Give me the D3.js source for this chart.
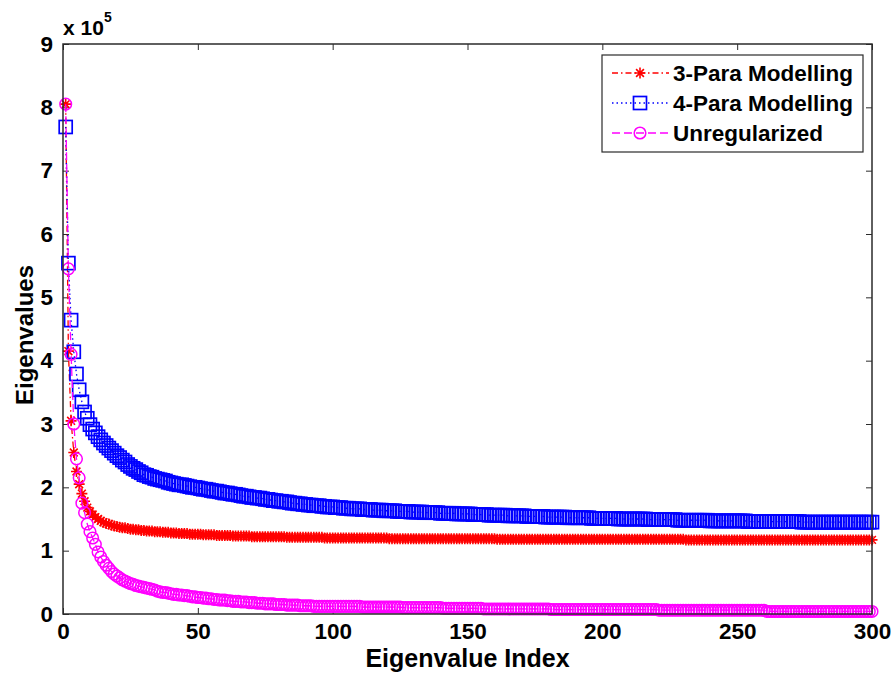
<!DOCTYPE html>
<html><head><meta charset="utf-8">
<script src="https://cdn.jsdelivr.net/npm/d3@7"></script>
<style>
body{margin:0;background:#fff;}
text{font-family:"Liberation Sans",Arial,sans-serif;font-weight:bold;fill:#000;}
</style></head>
<body><svg id="c" width="894" height="678"></svg>
<script>
// values in units of 1e5
const xTicks = [0,50,100,150,200,250,300];
const yTicks = [0,1,2,3,4,5,6,7,8,9];
const seriesNames = ["3-Para Modelling","4-Para Modelling","Unregularized"];
const threePara = [
8.05,4.15,3.05,2.55,2.25,2.05,1.90,1.78,1.68,1.62,
1.57,1.53,1.50,1.47,1.45,1.43,1.42,1.40,1.39,1.38,
1.37,1.36,1.36,1.35,1.34,1.34,1.33,1.33,1.32,1.32,
1.31,1.31,1.31,1.30,1.30,1.30,1.29,1.29,1.29,1.28,
1.28,1.28,1.27,1.27,1.27,1.27,1.26,1.26,1.26,1.26,
1.26,1.25,1.25,1.25,1.25,1.25,1.24,1.24,1.24,1.24,
1.24,1.24,1.23,1.23,1.23,1.23,1.23,1.23,1.23,1.22,
1.22,1.22,1.22,1.22,1.22,1.22,1.22,1.22,1.22,1.22,
1.22,1.22,1.21,1.21,1.21,1.21,1.21,1.21,1.21,1.21,
1.21,1.21,1.21,1.21,1.21,1.21,1.20,1.20,1.20,1.20,
1.20,1.20,1.20,1.20,1.20,1.20,1.20,1.20,1.20,1.20,
1.20,1.20,1.20,1.20,1.20,1.20,1.20,1.20,1.20,1.20,
1.19,1.19,1.19,1.19,1.19,1.19,1.19,1.19,1.19,1.19,
1.19,1.19,1.19,1.19,1.19,1.19,1.19,1.19,1.19,1.19,
1.19,1.19,1.19,1.19,1.19,1.19,1.19,1.19,1.19,1.19,
1.19,1.19,1.19,1.19,1.19,1.19,1.19,1.19,1.19,1.19,
1.18,1.18,1.18,1.18,1.18,1.18,1.18,1.18,1.18,1.18,
1.18,1.18,1.18,1.18,1.18,1.18,1.18,1.18,1.18,1.18,
1.18,1.18,1.18,1.18,1.18,1.18,1.18,1.18,1.18,1.18,
1.18,1.18,1.18,1.18,1.18,1.18,1.18,1.18,1.18,1.18,
1.18,1.18,1.18,1.18,1.18,1.18,1.18,1.18,1.18,1.18,
1.18,1.18,1.18,1.18,1.18,1.18,1.18,1.18,1.18,1.18,
1.18,1.18,1.18,1.18,1.18,1.18,1.18,1.18,1.18,1.18,
1.17,1.17,1.17,1.17,1.17,1.17,1.17,1.17,1.17,1.17,
1.17,1.17,1.17,1.17,1.17,1.17,1.17,1.17,1.17,1.17,
1.17,1.17,1.17,1.17,1.17,1.17,1.17,1.17,1.17,1.17,
1.17,1.17,1.17,1.17,1.17,1.17,1.17,1.17,1.17,1.17,
1.17,1.17,1.17,1.17,1.17,1.17,1.17,1.17,1.17,1.17,
1.17,1.17,1.17,1.17,1.17,1.17,1.17,1.17,1.17,1.17,
1.17,1.17,1.17,1.17,1.17,1.17,1.17,1.17,1.17,1.17];
const fourPara = [
7.69,5.54,4.64,4.14,3.79,3.54,3.35,3.19,3.09,2.99,
2.92,2.86,2.80,2.75,2.70,2.66,2.62,2.58,2.54,2.50,
2.47,2.43,2.40,2.36,2.33,2.30,2.28,2.25,2.23,2.20,
2.19,2.17,2.16,2.14,2.13,2.12,2.11,2.10,2.08,2.07,
2.06,2.05,2.04,2.04,2.03,2.02,2.01,2.00,2.00,1.99,
1.98,1.97,1.97,1.96,1.95,1.94,1.94,1.93,1.92,1.91,
1.91,1.90,1.89,1.89,1.88,1.87,1.86,1.86,1.85,1.84,
1.84,1.83,1.83,1.82,1.81,1.81,1.80,1.79,1.79,1.78,
1.78,1.77,1.77,1.76,1.75,1.75,1.74,1.74,1.73,1.73,
1.72,1.72,1.71,1.71,1.71,1.70,1.70,1.69,1.69,1.69,
1.68,1.68,1.68,1.67,1.67,1.67,1.66,1.66,1.66,1.66,
1.65,1.65,1.65,1.65,1.64,1.64,1.64,1.64,1.63,1.63,
1.63,1.63,1.63,1.62,1.62,1.62,1.62,1.62,1.61,1.61,
1.61,1.61,1.61,1.60,1.60,1.60,1.60,1.60,1.60,1.59,
1.59,1.59,1.59,1.59,1.59,1.58,1.58,1.58,1.58,1.58,
1.58,1.57,1.57,1.57,1.57,1.57,1.57,1.56,1.56,1.56,
1.56,1.56,1.56,1.56,1.55,1.55,1.55,1.55,1.55,1.55,
1.55,1.54,1.54,1.54,1.54,1.54,1.54,1.54,1.53,1.53,
1.53,1.53,1.53,1.53,1.53,1.53,1.52,1.52,1.52,1.52,
1.52,1.52,1.52,1.52,1.52,1.51,1.51,1.51,1.51,1.51,
1.51,1.51,1.51,1.51,1.51,1.50,1.50,1.50,1.50,1.50,
1.50,1.50,1.50,1.50,1.50,1.50,1.49,1.49,1.49,1.49,
1.49,1.49,1.49,1.49,1.49,1.49,1.49,1.48,1.48,1.48,
1.48,1.48,1.48,1.48,1.48,1.48,1.48,1.48,1.48,1.47,
1.47,1.47,1.47,1.47,1.47,1.47,1.47,1.47,1.47,1.47,
1.47,1.47,1.47,1.46,1.46,1.46,1.46,1.46,1.46,1.46,
1.46,1.46,1.46,1.46,1.46,1.46,1.46,1.46,1.46,1.46,
1.46,1.46,1.46,1.45,1.45,1.45,1.45,1.45,1.45,1.45,
1.45,1.45,1.45,1.45,1.45,1.45,1.45,1.45,1.45,1.45,
1.45,1.45,1.45,1.45,1.45,1.45,1.45,1.45,1.45,1.45];
const unregularized = [
8.05,5.45,4.10,3.00,2.45,2.15,1.75,1.60,1.42,1.30,
1.20,1.10,0.98,0.90,0.83,0.77,0.72,0.67,0.63,0.60,
0.57,0.54,0.52,0.50,0.48,0.47,0.45,0.44,0.43,0.42,
0.41,0.40,0.39,0.38,0.36,0.35,0.34,0.34,0.33,0.32,
0.31,0.31,0.30,0.30,0.29,0.29,0.28,0.27,0.27,0.26,
0.26,0.25,0.25,0.24,0.24,0.23,0.23,0.22,0.22,0.22,
0.21,0.21,0.20,0.20,0.20,0.19,0.19,0.19,0.18,0.18,
0.18,0.17,0.17,0.17,0.16,0.16,0.16,0.16,0.15,0.15,
0.15,0.15,0.14,0.14,0.14,0.14,0.14,0.13,0.13,0.13,
0.13,0.13,0.12,0.12,0.12,0.12,0.12,0.12,0.12,0.12,
0.12,0.12,0.12,0.12,0.12,0.12,0.12,0.12,0.12,0.12,
0.11,0.11,0.11,0.11,0.11,0.11,0.11,0.11,0.11,0.11,
0.11,0.11,0.11,0.11,0.11,0.10,0.10,0.10,0.10,0.10,
0.10,0.10,0.10,0.10,0.10,0.10,0.10,0.10,0.10,0.10,
0.09,0.09,0.09,0.09,0.09,0.09,0.09,0.09,0.09,0.09,
0.09,0.09,0.09,0.09,0.09,0.08,0.08,0.08,0.08,0.08,
0.08,0.08,0.08,0.08,0.08,0.08,0.08,0.08,0.08,0.08,
0.08,0.08,0.08,0.08,0.08,0.08,0.08,0.08,0.08,0.08,
0.07,0.07,0.07,0.07,0.07,0.07,0.07,0.07,0.07,0.07,
0.07,0.07,0.07,0.07,0.07,0.07,0.07,0.07,0.07,0.07,
0.07,0.07,0.07,0.07,0.07,0.07,0.07,0.07,0.07,0.07,
0.07,0.07,0.07,0.07,0.07,0.07,0.07,0.07,0.07,0.07,
0.06,0.06,0.06,0.06,0.06,0.06,0.06,0.06,0.06,0.06,
0.06,0.06,0.06,0.06,0.06,0.06,0.06,0.06,0.06,0.06,
0.06,0.06,0.06,0.06,0.06,0.06,0.06,0.06,0.06,0.06,
0.06,0.06,0.06,0.06,0.06,0.06,0.06,0.06,0.06,0.06,
0.04,0.04,0.04,0.04,0.04,0.04,0.04,0.04,0.04,0.04,
0.04,0.04,0.04,0.04,0.04,0.04,0.04,0.04,0.04,0.04,
0.04,0.04,0.04,0.04,0.04,0.04,0.04,0.04,0.04,0.04,
0.04,0.04,0.04,0.04,0.04,0.04,0.04,0.04,0.04,0.04];

const svg = d3.select("#c");
const L=63, R=872, T=44, B=614;
const x = d3.scaleLinear().domain([0,300]).range([L,R]);
const y = d3.scaleLinear().domain([0,9]).range([B,T]);
const axisCol = "#2b2b2b";
const FF = "Liberation Sans, Arial";

// axes (ticks inside, on all four sides)
const tl = 6;
svg.append("g").attr("transform",`translate(0,${B})`)
  .call(d3.axisBottom(x).tickValues(xTicks).tickSize(-tl).tickPadding(9).tickFormat(d3.format("d")))
  .call(g=>{g.select(".domain").remove();g.selectAll("line").attr("stroke",axisCol);
    g.selectAll("text").attr("font-size",22.5).attr("font-family",FF).attr("font-weight","bold").attr("fill","#000");});
svg.append("g").attr("transform",`translate(0,${T})`)
  .call(d3.axisTop(x).tickValues(xTicks).tickSize(-tl).tickFormat(""))
  .call(g=>{g.select(".domain").remove();g.selectAll("line").attr("stroke",axisCol);});
svg.append("g").attr("transform",`translate(${L},0)`)
  .call(d3.axisLeft(y).tickValues(yTicks).tickSize(-tl).tickPadding(10).tickFormat(d3.format("d")))
  .call(g=>{g.select(".domain").remove();g.selectAll("line").attr("stroke",axisCol);
    g.selectAll("text").attr("font-size",22.5).attr("font-family",FF).attr("font-weight","bold").attr("fill","#000");});
svg.append("g").attr("transform",`translate(${R},0)`)
  .call(d3.axisRight(y).tickValues(yTicks).tickSize(-tl).tickFormat(""))
  .call(g=>{g.select(".domain").remove();g.selectAll("line").attr("stroke",axisCol);});

// data
const series = [
  {name:seriesNames[0], vals:threePara, color:"#ff0000", dash:"6,3,1.5,3", marker:"star"},
  {name:seriesNames[1], vals:fourPara, color:"#0000ff", dash:"1.5,3", marker:"square"},
  {name:seriesNames[2], vals:unregularized, color:"#ff00ff", dash:"8,4", marker:"circle"}
];
const line = d3.line().x((d,i)=>x(i+1)).y(d=>y(d));
function drawMarker(g, type, color){
  if(type==="star"){
    g.append("path").attr("d","M-5.5,0L5.5,0M0,-5.5L0,5.5M-3.9,-3.9L3.9,3.9M-3.9,3.9L3.9,-3.9")
      .attr("stroke",color).attr("stroke-width",1.6).attr("fill","none");
  } else if(type==="square"){
    g.append("rect").attr("x",-6.5).attr("y",-6.5).attr("width",13).attr("height",13)
      .attr("stroke",color).attr("stroke-width",1.7).attr("fill","none");
  } else {
    g.append("circle").attr("r",5.8).attr("stroke",color).attr("stroke-width",1.5).attr("fill","none");
  }
}
series.forEach(s=>{
  const g = svg.append("g");
  g.append("path").datum(s.vals).attr("d",line).attr("fill","none")
    .attr("stroke",s.color).attr("stroke-width",1.3).attr("stroke-dasharray",s.dash);
  g.selectAll("g.m").data(s.vals).enter().append("g").attr("class","m")
    .attr("transform",(d,i)=>`translate(${x(i+1)},${y(d)})`)
    .each(function(){ drawMarker(d3.select(this), s.marker, s.color); });
});

// box
svg.append("rect").attr("x",L).attr("y",T).attr("width",R-L).attr("height",B-T)
  .attr("fill","none").attr("stroke",axisCol).attr("stroke-width",1.5);

// exponent label
const ex = svg.append("text").attr("x",L).attr("y",35).attr("font-size",21);
ex.append("tspan").text("x 10");
ex.append("tspan").attr("dy",-13).attr("font-size",14).text("5");

// axis labels
svg.append("text").attr("x",(L+R)/2).attr("y",667).attr("text-anchor","middle")
  .attr("font-size",25).text("Eigenvalue Index");
svg.append("text").attr("transform",`translate(33,${(T+B)/2+6}) rotate(-90)`)
  .attr("text-anchor","middle").attr("font-size",24).text("Eigenvalues");

// legend
const lg = svg.append("g");
lg.append("rect").attr("x",602).attr("y",55).attr("width",261).attr("height",97)
  .attr("fill","#fff").attr("stroke",axisCol).attr("stroke-width",1.2);
series.forEach((s,i)=>{
  const yy = 73 + i*30;
  lg.append("line").attr("x1",612).attr("x2",669).attr("y1",yy).attr("y2",yy)
    .attr("stroke",s.color).attr("stroke-width",1.3).attr("stroke-dasharray",s.dash);
  const m = lg.append("g").attr("transform",`translate(640,${yy})`);
  drawMarker(m, s.marker, s.color);
  lg.append("text").attr("x",673).attr("y",yy+8).attr("font-size",22.5).text(s.name);
});
</script></body></html>
